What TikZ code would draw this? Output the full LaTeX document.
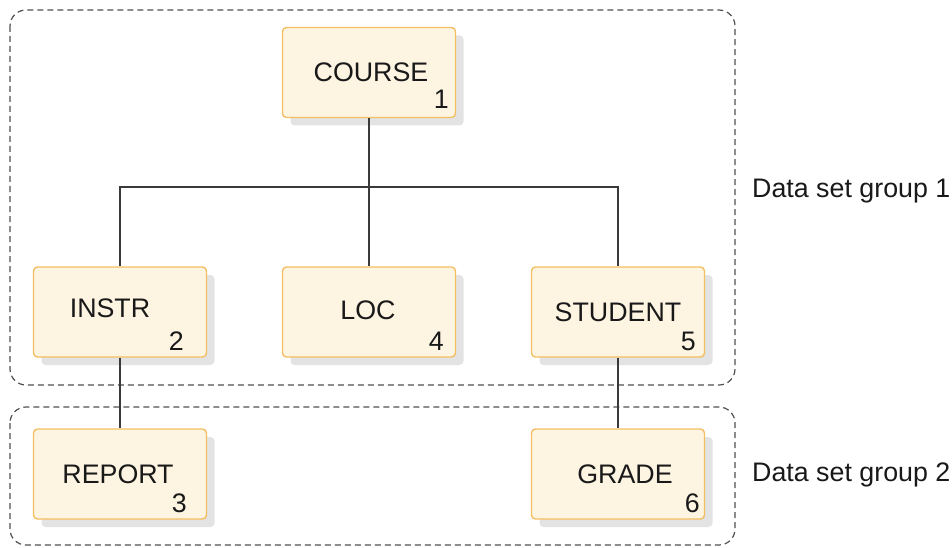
\documentclass[tikz,border=0pt]{standalone}
\usepackage{fontspec}
\setmainfont{Liberation Sans}
\usetikzlibrary{shadows}
\definecolor{boxfill}{HTML}{FEF4E2}
\definecolor{boxline}{HTML}{F4BE62}
\definecolor{lnk}{HTML}{3A3A3A}
\definecolor{grp}{HTML}{505050}
\tikzset{
  ent/.style={draw=boxline, line width=1.4pt, fill=boxfill, rounded corners=4pt,
    minimum width=173pt, minimum height=90pt, inner sep=0pt,
    drop shadow={shadow xshift=8pt, shadow yshift=-8pt, fill=black!11, opacity=1}},
  lbl/.style={font=\fontsize{26.8}{31}\selectfont, text=black!90, inner sep=0pt},
  num/.style={font=\fontsize{26.8}{31}\selectfont, text=black!90, inner sep=0pt, anchor=base east},
  grpbox/.style={draw=grp, line width=1.2pt, dash pattern=on 6pt off 4pt, rounded corners=16pt},
  link/.style={draw=lnk, line width=1.4pt}
}
\begin{document}
\begin{tikzpicture}[x=1pt,y=-1pt]
\useasboundingbox (0,0) rectangle (952,548);
% groups
\draw[grpbox] (10,10) rectangle (735,385);
\draw[grpbox] (10,407) rectangle (735,545);
\coordinate (bus) at (369,187);
% boxes
\node[ent] (course) at (369,72.5) {};
\node[ent] (instr) at (120,312) {};
\node[ent] (loc) at (369,312) {};
\node[ent] (student) at (618,312) {};
\node[ent] (report) at (120,474) {};
\node[ent] (grade) at (618,474) {};
% links
\draw[link] (course.south) -- (bus);
\draw[link] (instr.north) |- (bus) -| (student.north);
\draw[link] (bus) -- (loc.north);
\draw[link] (instr.south) -- (report.north);
\draw[link] (student.south) -- (grade.north);
% labels
\node[lbl] (tcourse) at (371,72) {COURSE};
\node[num] (ncourse) at (449,109) {1};
\node[lbl] (tinstr) at (110,308) {INSTR};
\node[num] (ninstr) at (184,350) {2};
\node[lbl] (tloc) at (368,310) {LOC};
\node[num] (nloc) at (444,350) {4};
\node[lbl] (tstudent) at (618,312) {STUDENT};
\node[num] (nstudent) at (696,350) {5};
\node[lbl] (treport) at (118,474) {REPORT};
\node[num] (nreport) at (187,512) {3};
\node[lbl] (tgrade) at (625,474) {GRADE};
\node[num] (ngrade) at (700,512) {6};
\node[lbl, anchor=west] (g1) at (752,191) {Data set group 1};
\node[lbl, anchor=west] (g2) at (752,475) {Data set group 2};
\end{tikzpicture}
\end{document}
